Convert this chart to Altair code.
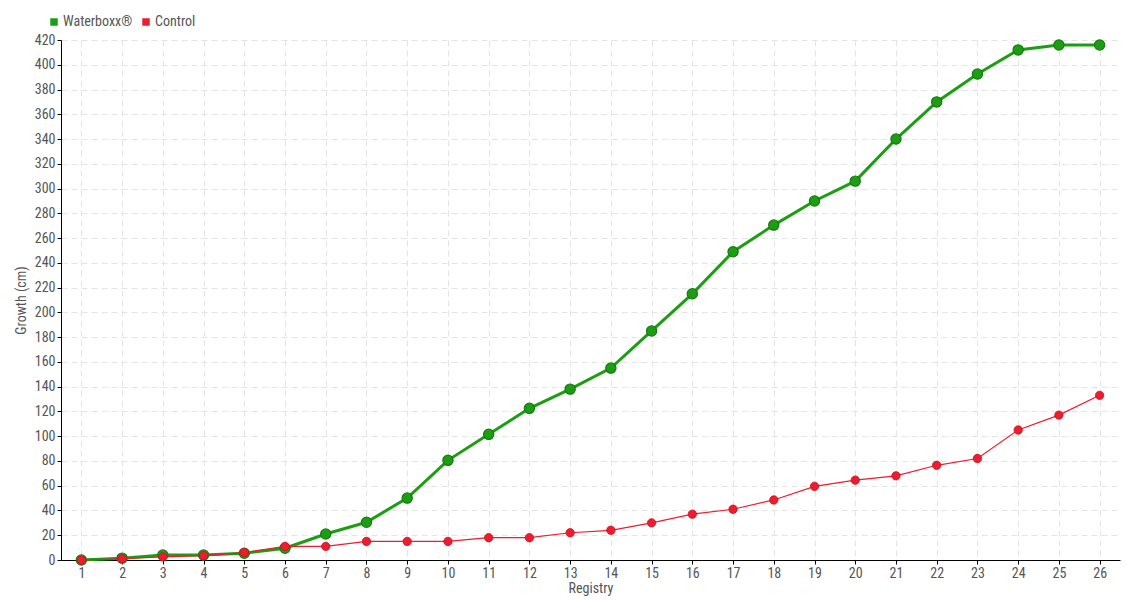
import altair as alt
import pandas as pd

registry = list(range(1, 27))
waterboxx = [0, 1.5, 4, 4, 5.5, 9.5, 21, 30.5, 50, 80.5, 101.5, 122.5, 138, 155, 185, 215,
             249, 270.5, 290, 306, 340, 370, 392.5, 412, 416, 416]
control = [0, 1, 2.5, 3.5, 6, 11, 11, 15, 15, 15, 18, 18, 22, 24, 30, 37,
           41, 48.5, 59.5, 64.5, 68, 76.5, 82, 105, 117, 133]
series_names = ["Waterboxx®", "Control"]
y_ticks = list(range(0, 421, 20))

df = pd.DataFrame({
    "Registry": registry * 2,
    "Growth": waterboxx + control,
    "Series": [series_names[0]] * len(registry) + [series_names[1]] * len(registry),
})

FONT = "Liberation Sans Narrow, Roboto Condensed, Roboto, sans-serif"

color = alt.Color("Series:N",
                  scale=alt.Scale(domain=series_names, range=["#1c9e12", "#ee1c2e"]),
                  legend=alt.Legend(title=None, orient="none", legendX=-14, legendY=-25,
                                    direction="horizontal", symbolType="square",
                                    symbolSize=36, labelFontSize=14, labelColor="#555",
                                    labelFont=FONT, columnPadding=6, symbolOffset=0,
                                    labelOffset=2))

x = alt.X("Registry:O", title="Registry",
          scale=alt.Scale(type="point", padding=0.5),
          axis=alt.Axis(labelAngle=0, grid=True, gridDash=[6, 4], gridColor="#e4e4e4",
                        domainColor="#000", tickColor="#000", tickSize=4,
                        labelColor="#555", labelFontSize=14, labelFont=FONT,
                        titleFont=FONT, titleFontSize=14, titleFontWeight="normal",
                        titleColor="#555", titlePadding=1, labelPadding=2))
y = alt.Y("Growth:Q", title="Growth (cm)",
          scale=alt.Scale(domain=[0, 420], nice=False),
          axis=alt.Axis(values=y_ticks, grid=True, gridDash=[6, 4], gridColor="#e4e4e4",
                        domainColor="#000", tickColor="#000", tickSize=4,
                        labelColor="#555", labelFontSize=14, labelFont=FONT,
                        titleFont=FONT, titleFontSize=14, titleFontWeight="normal",
                        titleColor="#555", titlePadding=6, labelPadding=2))

base = alt.Chart(df).encode(x=x, y=y, color=color)

green_line = base.transform_filter(alt.datum.Series == series_names[0]).mark_line(strokeWidth=3)
green_pts = base.transform_filter(alt.datum.Series == series_names[0]).mark_point(
    filled=True, size=105, opacity=1, stroke="#177a10", strokeWidth=1.2)
red_line = base.transform_filter(alt.datum.Series == series_names[1]).mark_line(
    strokeWidth=1.2, color="#ff4a5a")
red_pts = base.transform_filter(alt.datum.Series == series_names[1]).mark_point(
    filled=True, size=70, opacity=1, stroke="#c8101f", strokeWidth=0.8)

chart = (green_line + green_pts + red_line + red_pts).properties(
    width=1059, height=520,
    autosize=alt.AutoSizeParams(type="none"),
    padding={"left": 53, "top": 32, "right": 12, "bottom": 36},
).configure_view(stroke=None)

chart.save("out.html", embed_options={"renderer": "svg", "actions": False})
